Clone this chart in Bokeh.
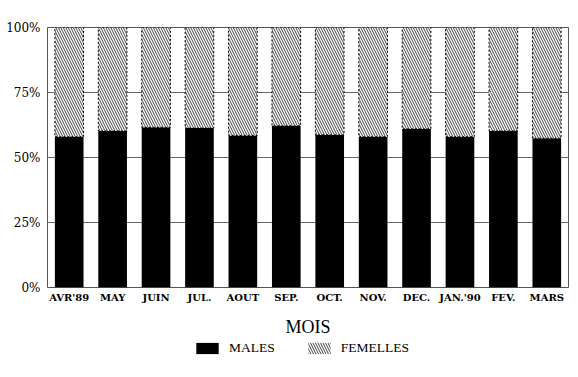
from bokeh.plotting import figure
from bokeh.layouts import column
from bokeh.models import (FactorRange, FixedTicker, PrintfTickFormatter, Legend,
                          LegendItem, ColumnDataSource, Range1d)
from bokeh.embed import file_html
from bokeh.resources import INLINE

months = ["AVR'89", "MAY", "JUIN", "JUL.", "AOUT", "SEP.", "OCT.", "NOV.",
          "DEC.", "JAN.'90", "FEV.", "MARS"]
males = [58.0, 60.2, 61.6, 61.3, 58.5, 62.2, 58.7, 58.0, 61.0, 58.0, 60.2, 57.4]
femelles = [100 - m for m in males]
y_ticks = [0, 25, 50, 75, 100]
series_labels = ["MALES", "FEMELLES"]
x_title = "MOIS"

src = ColumnDataSource(dict(month=months, males=males, femelles=femelles,
                            total=[m + f for m, f in zip(males, femelles)]))

male_style = dict(fill_color="black", line_color=None)
fem_fill = dict(fill_color="white", hatch_pattern="left_diagonal_line",
                hatch_color="#444444", hatch_scale=5, hatch_weight=1)

p = figure(width=570, height=312, x_range=FactorRange(*months, range_padding=0),
           y_range=(0, 100), output_backend="svg", toolbar_location=None,
           min_border_left=47, min_border_right=2, min_border_top=27,
           min_border_bottom=25)

p.vbar(x="month", top="males", bottom=0, width=0.66, source=src, **male_style)
p.vbar(x="month", top="total", bottom="males", width=0.66, source=src,
       line_color="black", line_dash="2 2", line_width=1, **fem_fill)

p.outline_line_color = "#555555"
p.outline_line_width = 1
p.xgrid.grid_line_color = None
p.ygrid.grid_line_color = "#666666"
p.ygrid.ticker = FixedTicker(ticks=y_ticks)

p.yaxis.ticker = FixedTicker(ticks=y_ticks)
p.yaxis.formatter = PrintfTickFormatter(format="%d%%")
p.yaxis.axis_line_color = None
p.yaxis.major_tick_line_color = None
p.yaxis.major_tick_out = 0
p.yaxis.minor_tick_line_color = None
p.yaxis.major_label_text_font = "DejaVu Serif"
p.yaxis.major_label_text_font_size = "12px"
p.yaxis.major_label_text_color = "black"
p.yaxis.major_label_standoff = 7

p.xaxis.axis_line_color = None
p.xaxis.major_tick_line_color = None
p.xaxis.major_tick_out = 0
p.xaxis.major_label_text_font = "DejaVu Serif"
p.xaxis.major_label_text_font_style = "bold"
p.xaxis.major_label_text_font_size = "10px"
p.xaxis.major_label_text_color = "black"
p.xaxis.major_label_standoff = 4

# strip below: axis title + legend (separate figure so the legend is not clipped)
lg = figure(width=570, height=57, x_range=FactorRange(*months, range_padding=0),
            y_range=Range1d(1000, 1001), output_backend="svg", toolbar_location=None,
            min_border_left=47, min_border_right=2, min_border_top=0,
            min_border_bottom=0, title=x_title, title_location="above")
lg.axis.visible = False
lg.grid.visible = False
lg.outline_line_color = None
lg.title.align = "center"
lg.title.text_font = "Liberation Serif"
lg.title.text_font_style = "normal"
lg.title.text_font_size = "18px"
lg.title.text_color = "black"
lg.title.standoff = 4
r_m = lg.vbar(x="month", top="males", bottom=0, width=0.66, source=src, **male_style)
r_f = lg.vbar(x="month", top="total", bottom="males", width=0.66, source=src,
              line_color=None, **fem_fill)

legend = Legend(items=[LegendItem(label=series_labels[0], renderers=[r_m]),
                       LegendItem(label=series_labels[1], renderers=[r_f])],
                orientation="horizontal", location=(146, 13),
                glyph_width=28, glyph_height=14, label_standoff=8, spacing=30,
                label_text_font="Liberation Serif", label_text_font_size="13.5px",
                label_text_color="black", label_height=14,
                border_line_color=None, background_fill_alpha=0,
                padding=0, margin=0)
lg.add_layout(legend, "center")

layout = column(p, lg, spacing=0)
open("out.html", "w").write(file_html(layout, INLINE))
